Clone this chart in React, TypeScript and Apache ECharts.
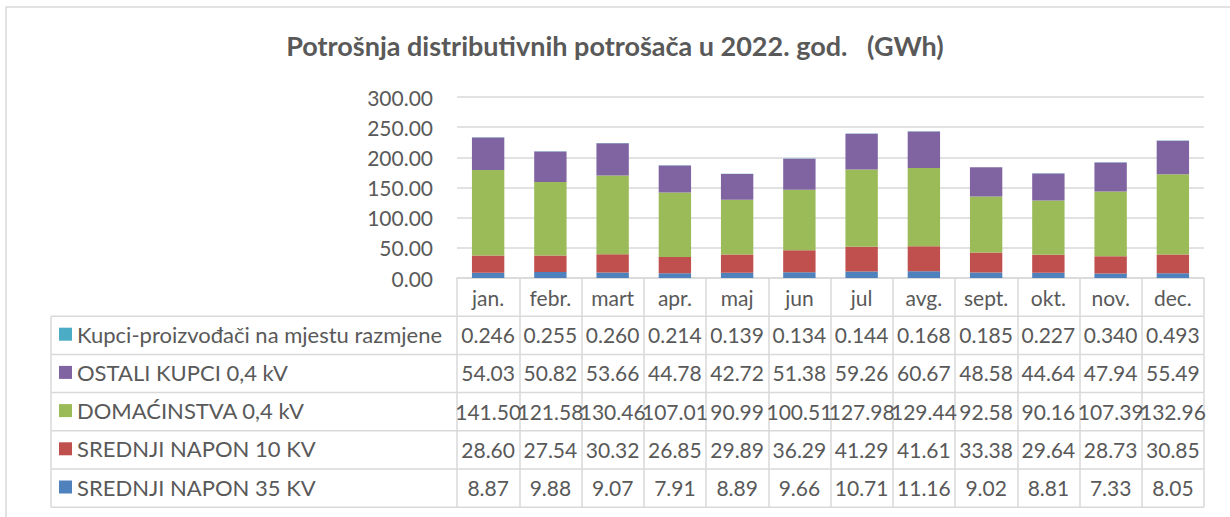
import React, { useEffect, useRef } from 'react';
import * as echarts from 'echarts';

const MONTHS = ['jan.', 'febr.', 'mart', 'apr.', 'maj', 'jun', 'jul', 'avg.', 'sept.', 'okt.', 'nov.', 'dec.'];
const KUPCI_PROIZ = [0.246, 0.255, 0.26, 0.214, 0.139, 0.134, 0.144, 0.168, 0.185, 0.227, 0.34, 0.493];
const OSTALI = [54.03, 50.82, 53.66, 44.78, 42.72, 51.38, 59.26, 60.67, 48.58, 44.64, 47.94, 55.49];
const DOMACINSTVA = [141.5, 121.58, 130.46, 107.01, 90.99, 100.51, 127.98, 129.44, 92.58, 90.16, 107.39, 132.96];
const SN10 = [28.6, 27.54, 30.32, 26.85, 29.89, 36.29, 41.29, 41.61, 33.38, 29.64, 28.73, 30.85];
const SN35 = [8.87, 9.88, 9.07, 7.91, 8.89, 9.66, 10.71, 11.16, 9.02, 8.81, 7.33, 8.05];
const Y_MIN = 0;
const Y_MAX = 300;
const Y_STEP = 50;

const TITLE = 'Potrošnja distributivnih potrošača u 2022. god.   (GWh)';

const FONT = 'Lato, "Open Sans", sans-serif';
const TXT = '#595959';
const LINE = '#D9D9D9';

const GRID_LEFT = 457;
const GRID_RIGHT_X = 1204;
const BASE_Y = 278;
const ROW_H = 38.2;
const TABLE_LEFT = 51;
const W = 1230;
const H = 517;

export default function App() {
  const ref = useRef<HTMLDivElement>(null);
  useEffect(() => {
    const chart = echarts.init(ref.current!, null, { renderer: 'svg' });
    const rows = [
      { name: 'Kupci-proizvođači na mjestu razmjene', data: KUPCI_PROIZ, digits: 3, color: '#4BACC6' },
      { name: 'OSTALI KUPCI 0,4 kV', data: OSTALI, digits: 2, color: '#8064A2' },
      { name: 'DOMAĆINSTVA 0,4 kV', data: DOMACINSTVA, digits: 2, color: '#9BBB59' },
      { name: 'SREDNJI NAPON 10 KV', data: SN10, digits: 2, color: '#C0504D' },
      { name: 'SREDNJI NAPON 35 KV', data: SN35, digits: 2, color: '#4F81BD' },
    ];
    const labelStyle = { fontFamily: FONT, fontSize: 21, color: TXT, lineHeight: 25 };
    const tick = { show: true, length: ROW_H, interval: 0, lineStyle: { color: LINE, width: 1.5 } };
    const xAxes: any[] = [
      {
        type: 'category',
        data: MONTHS,
        position: 'bottom',
        offset: 0,
        axisLine: { show: true, lineStyle: { color: LINE, width: 1.5 } },
        axisTick: tick,
        axisLabel: { ...labelStyle, interval: 0, margin: 7 },
        splitLine: { show: false },
      },
      ...rows.map((r, i) => ({
        type: 'category',
        data: MONTHS,
        position: 'bottom',
        offset: ROW_H * (i + 1),
        axisLine: { show: false },
        axisTick: tick,
        axisLabel: {
          ...labelStyle,
          interval: 0,
          margin: 6,
          formatter: (_v: string, idx: number) => r.data[idx].toFixed(r.digits),
        },
        splitLine: { show: false },
      })),
    ];
    const graphic: any[] = [
      {
        type: 'rect',
        shape: { x: 6, y: 7, width: 1240, height: 530 },
        style: { fill: 'none', stroke: LINE, lineWidth: 1.5 },
        silent: true,
      },
    ];
    for (let k = 1; k <= 6; k++) {
      const y = BASE_Y + ROW_H * k;
      graphic.push({
        type: 'line',
        shape: { x1: TABLE_LEFT, y1: y, x2: GRID_RIGHT_X, y2: y },
        style: { stroke: LINE, lineWidth: 1.5 },
        silent: true,
      });
    }
    graphic.push({
      type: 'line',
      shape: { x1: TABLE_LEFT, y1: BASE_Y + ROW_H, x2: TABLE_LEFT, y2: BASE_Y + ROW_H * 6 },
      style: { stroke: LINE, lineWidth: 1.5 },
      silent: true,
    });
    const stackOrder = [...rows].reverse();
    chart.setOption({
      animation: false,
      backgroundColor: '#ffffff',
      title: {
        text: TITLE,
        left: 'center',
        top: 27,
        textStyle: { fontFamily: FONT, fontSize: 27, fontWeight: 'bold', color: TXT },
      },
      legend: {
        orient: 'vertical',
        left: 59,
        top: BASE_Y + ROW_H + 6,
        padding: 0,
        itemGap: ROW_H - 24,
        itemWidth: 13,
        itemHeight: 13,
        icon: 'rect',
        selectedMode: false,
        data: rows.map((r) => r.name),
        textStyle: { fontFamily: FONT, fontSize: 22, color: TXT, lineHeight: 24 },
      },
      grid: { left: GRID_LEFT, right: W - GRID_RIGHT_X, top: 97, bottom: H - BASE_Y },
      xAxis: xAxes,
      yAxis: {
        type: 'value',
        min: Y_MIN,
        max: Y_MAX,
        interval: Y_STEP,
        axisLine: { show: false },
        axisTick: { show: false },
        axisLabel: {
          fontFamily: FONT,
          fontSize: 21,
          color: TXT,
          margin: 24,
          formatter: (v: number) => v.toFixed(2),
        },
        splitLine: { lineStyle: { color: LINE, width: 1.5 } },
      },
      graphic,
      series: stackOrder.map((r) => ({
        name: r.name,
        type: 'bar',
        stack: 'total',
        xAxisIndex: 0,
        barCategoryGap: '48%',
        itemStyle: { color: r.color },
        data: r.data,
      })),
    });
    return () => chart.dispose();
  }, []);
  return (
    <div
      ref={ref}
      style={{ position: 'fixed', left: 0, top: 0, width: W, height: H, background: '#fff' }}
    />
  );
}
